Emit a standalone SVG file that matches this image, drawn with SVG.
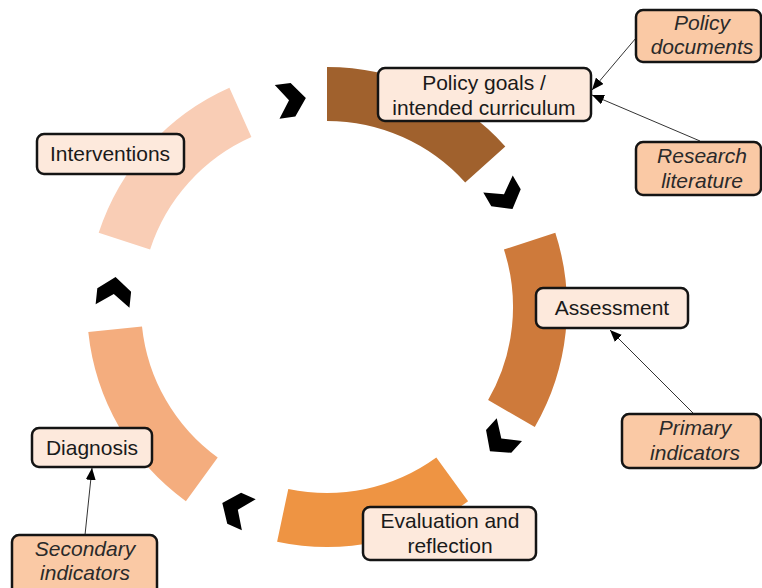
<svg xmlns="http://www.w3.org/2000/svg" width="762" height="588" viewBox="0 0 762 588">
<style>
.box{fill:#FDE9DC;stroke:#141414;stroke-width:2.5}
.src{fill:#FAC9A5;stroke:#141414;stroke-width:2.5}
.t{font-family:"Liberation Sans",Arial,sans-serif;font-size:21px;fill:#1a1a1a;text-anchor:middle}
.i{font-family:"Liberation Sans",Arial,sans-serif;font-size:21px;font-style:italic;fill:#2a2a2a;text-anchor:middle}
.ln{stroke:#333;stroke-width:1;fill:none;marker-end:url(#ah)}
.chev{fill:#000}
</style>
<defs>
<marker id="ah" viewBox="0 0 12 10" refX="12" refY="5" markerWidth="12" markerHeight="10" markerUnits="userSpaceOnUse" orient="auto">
<path d="M0,0 L12,5 L0,10 z" fill="#000"/>
</marker>
<polygon id="cv" points="-14,-17 2,-17 15,0 2,17 -14,17 -2,0"/>
</defs>
<rect width="762" height="588" fill="#fff"/>
<g id="ring">
<path d="M327,67 A240,240 0 0 1 505.3,146.4 L465.2,182.5 A186,186 0 0 0 327,121 Z" fill="#A0612D"/>
<path d="M555.3,232.8 A240,240 0 0 1 534.8,427 L488.1,400 A186,186 0 0 0 503.9,249.5 Z" fill="#CE7A3B"/>
<path d="M468.1,501.2 A240,240 0 0 1 277.1,541.7 L288.3,488.9 A186,186 0 0 0 436.3,457.5 Z" fill="#EE9443"/>
<path d="M185.9,501.2 A240,240 0 0 1 88.3,332.1 L142,326.4 A186,186 0 0 0 217.7,457.5 Z" fill="#F4AD7E"/>
<path d="M98.7,232.8 A240,240 0 0 1 229.4,87.8 L251.4,137.1 A186,186 0 0 0 150.1,249.5 Z" fill="#F9CDB5"/>
</g>
<g id="chevrons" class="chev">
<use href="#cv" transform="translate(291,100) rotate(352)"/>
<use href="#cv" transform="translate(505,196) rotate(60)"/>
<use href="#cv" transform="translate(500,440) rotate(132)"/>
<use href="#cv" transform="translate(236,509) rotate(204)"/>
<use href="#cv" transform="translate(114,292) rotate(276)"/>
</g>
<g id="connectors">
<line class="ln" x1="636" y1="38" x2="592" y2="90"/>
<line class="ln" x1="700" y1="141" x2="592" y2="95"/>
<line class="ln" x1="693" y1="413" x2="610" y2="330"/>
<line class="ln" x1="85" y1="535" x2="92" y2="468"/>
</g>
<g id="policy-goals">
<rect class="box" x="378" y="68" width="213" height="53" rx="7"/>
<text class="t" x="484" y="90">Policy goals /</text>
<text class="t" x="484" y="115">intended curriculum</text>
</g>
<g id="policy-documents">
<rect class="src" x="636" y="10" width="125" height="52" rx="7"/>
<text class="i" x="702" y="30">Policy</text>
<text class="i" x="702" y="54">documents</text>
</g>
<g id="research-literature">
<rect class="src" x="636" y="142" width="125" height="53" rx="7"/>
<text class="i" x="702" y="163">Research</text>
<text class="i" x="702" y="188">literature</text>
</g>
<g id="assessment">
<rect class="box" x="536" y="288" width="152" height="40" rx="7"/>
<text class="t" x="612" y="315">Assessment</text>
</g>
<g id="primary-indicators">
<rect class="src" x="622" y="414" width="139" height="54" rx="7"/>
<text class="i" x="695" y="435">Primary</text>
<text class="i" x="695" y="460">indicators</text>
</g>
<g id="evaluation">
<rect class="box" x="363" y="507" width="173" height="53" rx="7"/>
<text class="t" x="450" y="528">Evaluation and</text>
<text class="t" x="450" y="553">reflection</text>
</g>
<g id="diagnosis">
<rect class="box" x="32" y="428" width="120" height="39" rx="7"/>
<text class="t" x="92" y="455">Diagnosis</text>
</g>
<g id="secondary-indicators">
<rect class="src" x="12" y="535" width="145" height="60" rx="7"/>
<text class="i" x="85" y="556">Secondary</text>
<text class="i" x="85" y="580">indicators</text>
</g>
<g id="interventions">
<rect class="box" x="37" y="134" width="147" height="40" rx="7"/>
<text class="t" x="110" y="161">Interventions</text>
</g>
</svg>
